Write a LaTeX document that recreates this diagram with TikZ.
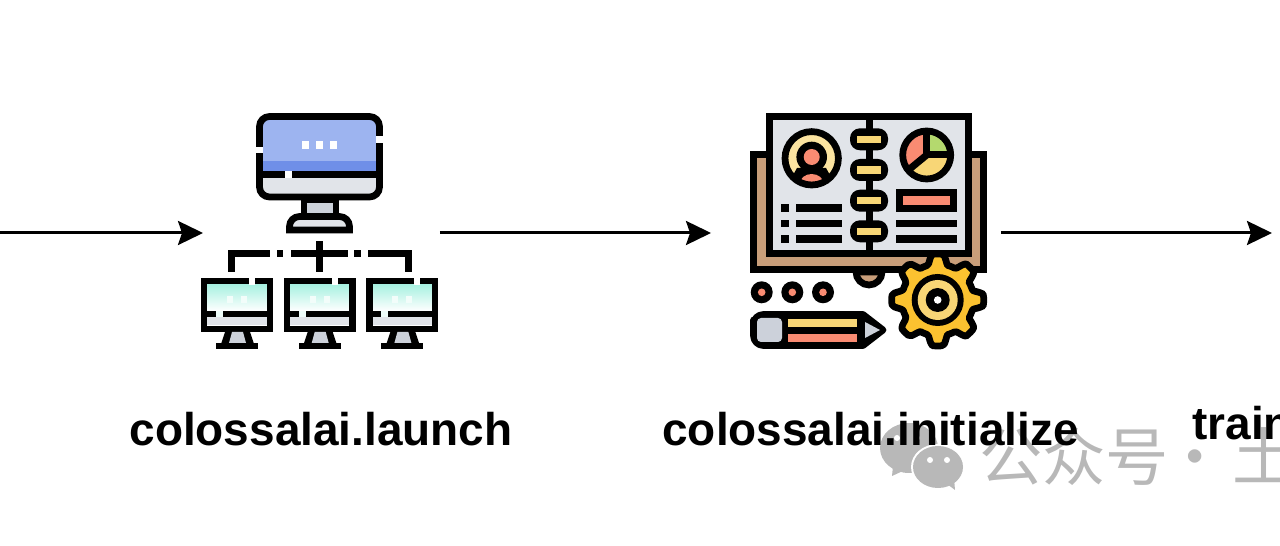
\documentclass[tikz,border=0pt]{standalone}
\usepackage{fontspec}
\setmainfont{Liberation Sans}
\newfontfamily\cjkfont{Noto Sans CJK SC}
\usetikzlibrary{arrows.meta}
\definecolor{screenblue}{HTML}{9DB4F0}
\definecolor{bandblue}{HTML}{6F8FE8}
\definecolor{panelgrey}{HTML}{E1E4E9}
\definecolor{standgrey}{HTML}{CCD1DA}
\definecolor{mintscreen}{HTML}{A9F1E1}
\definecolor{coverbrown}{HTML}{C99E7A}
\definecolor{salmonred}{HTML}{F98B72}
\definecolor{softyellow}{HTML}{F8D676}
\definecolor{paleyellow}{HTML}{FBE3A0}
\definecolor{leafgreen}{HTML}{B4D96E}
\definecolor{gearyellow}{HTML}{FBC230}
\definecolor{markgrey}{HTML}{B8B8B8}
\tikzset{
    stroke/.style={draw=black,line width=0.135cm},
    flow/.style={draw=black,line width=0.06cm,-{Stealth[length=0.5cm,width=0.48cm,inset=0.08cm]}},
    iconbox/.style={inner sep=0pt,outer sep=0pt,minimum height=0.1cm},
    caption/.style={font=\bfseries\fontsize{26.15}{30}\selectfont,inner sep=0pt},
    wmark/.style={font=\cjkfont\fontsize{36}{40}\selectfont,text=markgrey,inner sep=0pt}
}
\begin{document}
\begin{tikzpicture}[x=0.02cm,y=-0.02cm]
    \useasboundingbox (0,0) rectangle (1280,546);
    \clip (0,0) rectangle (1280,546);

    % large monitor
    \begin{scope}
        \clip[rounded corners=0.2cm] (259.5,116.5) rectangle (379.5,197);
        \fill[screenblue] (259,116) rectangle (380,161);
        \fill[bandblue] (259,161) rectangle (380,171);
        \fill[panelgrey] (259,178) rectangle (380,198);
    \end{scope}
    \fill[black] (259,171) rectangle (380,178);
    \fill[white] (285,171) rectangle (292,178);
    \draw[stroke,rounded corners=0.2cm] (259.5,116.5) rectangle (379.5,197);
    \fill[white] (256,147) rectangle (263,153);
    \fill[white] (376,136) rectangle (383,143);
    \fill[white] (302,141) rectangle (309,149);
    \fill[white] (316,141) rectangle (323,149);
    \fill[white] (330,141) rectangle (337,149);
    \draw[stroke,fill=standgrey] (304,200) rectangle (336,216);
    \draw[stroke,fill=panelgrey] (289.5,230) [rounded corners=0.2cm] -- (289.5,216.5) -- (349.5,216.5) [sharp corners] -- (349.5,230) -- cycle;

    % network lines
    \fill[black] (228,250) rectangle (270,257);
    \fill[black] (277,250) rectangle (283,257);
    \fill[black] (291,250) rectangle (348,257);
    \fill[black] (354,250) rectangle (361,257);
    \fill[black] (368,250) rectangle (412,257);
    \fill[black] (228,250) rectangle (235,272);
    \fill[black] (405,250) rectangle (412,272);
    \fill[black] (316,241) rectangle (323,272);

    % small monitors
    \foreach \mx in {0,82.7,165.4} {
        \begin{scope}[shift={(\mx,0)}]
            \fill[white] (204,281) rectangle (270,311);
            \shade[top color=mintscreen,bottom color=white] (204,285) rectangle (270,311);
            \fill[panelgrey] (204,317) rectangle (270,325);
            \fill[black] (204,311) rectangle (270,317);
            \fill[white!80!mintscreen] (216,311) rectangle (223,317);
            \draw[stroke,line width=0.13cm] (204.2,281.2) rectangle (269.8,328.8);
            \fill[white] (249,278) rectangle (255,285);
            \fill[white!85!mintscreen] (227,296) rectangle (233,303);
            \fill[white!85!mintscreen] (241,296) rectangle (247,303);
            \fill[black] (225,332) -- (250,332) -- (254,344) -- (221,344) -- cycle;
            \fill[standgrey] (232,332) -- (243,332) -- (246,343) -- (229,343) -- cycle;
            \fill[black] (216,343) rectangle (258,349);
        \end{scope}
    }

    % book covers and pages
    \draw[stroke,fill=coverbrown] (856,272) arc (180:0:13) -- cycle;
    \draw[stroke,fill=coverbrown] (753.5,154.5) rectangle (983.5,269.5);
    \draw[stroke,fill=panelgrey] (769.5,116.5) rectangle (968.5,253.5);
    \fill[black] (866,116) rectangle (873,257);
    \foreach \ry in {139.3,170,200.7,231.3} {
        \fill[black,rounded corners=0.2cm] (850,\ry-11) rectangle (888,\ry+11);
        \fill[softyellow] (857,\ry-3.7) rectangle (881,\ry+3.7);
    }

    % portrait badge
    \fill[paleyellow] (811.7,158.3) circle[radius=25];
    \begin{scope}
        \clip (811.7,158.3) circle[radius=25];
        \fill[black] (797,168) -- (826,168) -- (836,186) -- (787,186) -- cycle;
        \fill[salmonred] (811.7,184) ellipse[x radius=12,y radius=10];
    \end{scope}
    \fill[black] (811.7,157) circle[radius=15.3];
    \fill[salmonred] (811.7,157) circle[radius=8];
    \draw[stroke] (811.7,158.3) circle[radius=26.7];

    % pie badge
    \begin{scope}
        \clip (926.7,155) circle[radius=24];
        \fill[salmonred] (926.7,155) -- (926.7,125) -- (895,125) -- (895,190) -- (905,180) -- cycle;
        \fill[leafgreen] (926.7,155) -- (926.7,125) -- (960,125) -- (960,155) -- cycle;
        \fill[softyellow] (926.7,155) -- (960,155) -- (960,190) -- (905,190) -- (905,180) -- cycle;
    \end{scope}
    \draw[black,line width=0.14cm] (926.7,128) -- (926.7,155) -- (953,155);
    \draw[black,line width=0.14cm] (926.7,155) -- (906,172);
    \draw[stroke] (926.7,155) circle[radius=24];

    % page lines
    \draw[stroke,fill=salmonred] (899.5,192.5) rectangle (953.5,208.5);
    \fill[black] (896,220) rectangle (957,227);
    \fill[black] (896,235) rectangle (957,243);
    \foreach \ly/\lz in {204/212,220/227,235/243} {
        \fill[black] (781,\ly) rectangle (789,\lz);
        \fill[black] (796,\ly) rectangle (842,\lz);
    }

    % dots
    \foreach \cx in {761.7,792.3,823} {
        \fill[black] (\cx,292.3) circle[radius=11];
        \fill[salmonred] (\cx,292.3) circle[radius=3.8];
    }

    % pencil
    \draw[stroke,fill=black,line join=round] (753.5,320) [rounded corners=0.2cm] -- (753.5,314.5) [sharp corners] -- (863,314.5) -- (883,330) -- (863,345.5) [rounded corners=0.2cm] -- (753.5,345.5) [sharp corners] -- cycle;
    \fill[standgrey,rounded corners=0.08cm] (757,318) rectangle (782,342);
    \fill[softyellow] (788,319) rectangle (857,327);
    \fill[salmonred] (788,334) rectangle (857,342);
    \fill[standgrey] (865,322) -- (880,330) -- (865,338) -- cycle;

    % gear
    \begin{scope}[shift={(937.7,300)}]
        \draw[stroke,fill=gearyellow,line join=round] plot[smooth cycle,samples=97,domain=0:356.25] (\x:{41+5*max(-1,min(1,1.9*cos(8*\x)))});
    \end{scope}
    \fill[black] (937.7,300) circle[radius=26];
    \fill[softyellow] (937.7,300) circle[radius=20];
    \fill[black] (937.7,300) circle[radius=12];
    \fill[white] (937.7,300) circle[radius=3.8];

    % watermark
    \fill[markgrey] (909,448) ellipse[x radius=29,y radius=25];
    \fill[markgrey] (893,466) -- (892,476) -- (905,470) -- cycle;
    \fill[white] (897,438) circle[radius=3];
    \fill[white] (917,438) circle[radius=3];
    \fill[white] (938,467) ellipse[x radius=27,y radius=23];
    \fill[markgrey] (938,467) ellipse[x radius=25,y radius=21];
    \fill[markgrey] (947,484) -- (955,490) -- (954,478) -- cycle;
    \fill[white] (930,460) circle[radius=3];
    \fill[white] (947,460) circle[radius=3];
    \node[wmark,anchor=base west] (wmname) at (979,480) {公众号};
    \node[wmark,anchor=base] (wmdot) at (1195,480) {·};
    \node[wmark,anchor=base west] (wmtail) at (1232,480) {土};

    % steps
    \node[iconbox,minimum width=4.74cm] (launch) at (321.5,233) {};
    \node[iconbox,minimum width=5.8cm] (init) at (856,233) {};
    \coordinate (feed) at (0,233);
    \coordinate (next) at (1272,233);
    \draw[flow] (feed) -- (launch.west);
    \draw[flow] (launch.east) -- (init.west);
    \draw[flow] (init.east) -- (next);

    \node[caption,anchor=base] (launchtext) at (321,446) {colossalai.launch};
    \node[caption,anchor=base] (inittext) at (870.5,446) {colossalai.initialize};
    \node[caption,anchor=base west] (traintext) at (1192,440) {train};
\end{tikzpicture}
\end{document}
